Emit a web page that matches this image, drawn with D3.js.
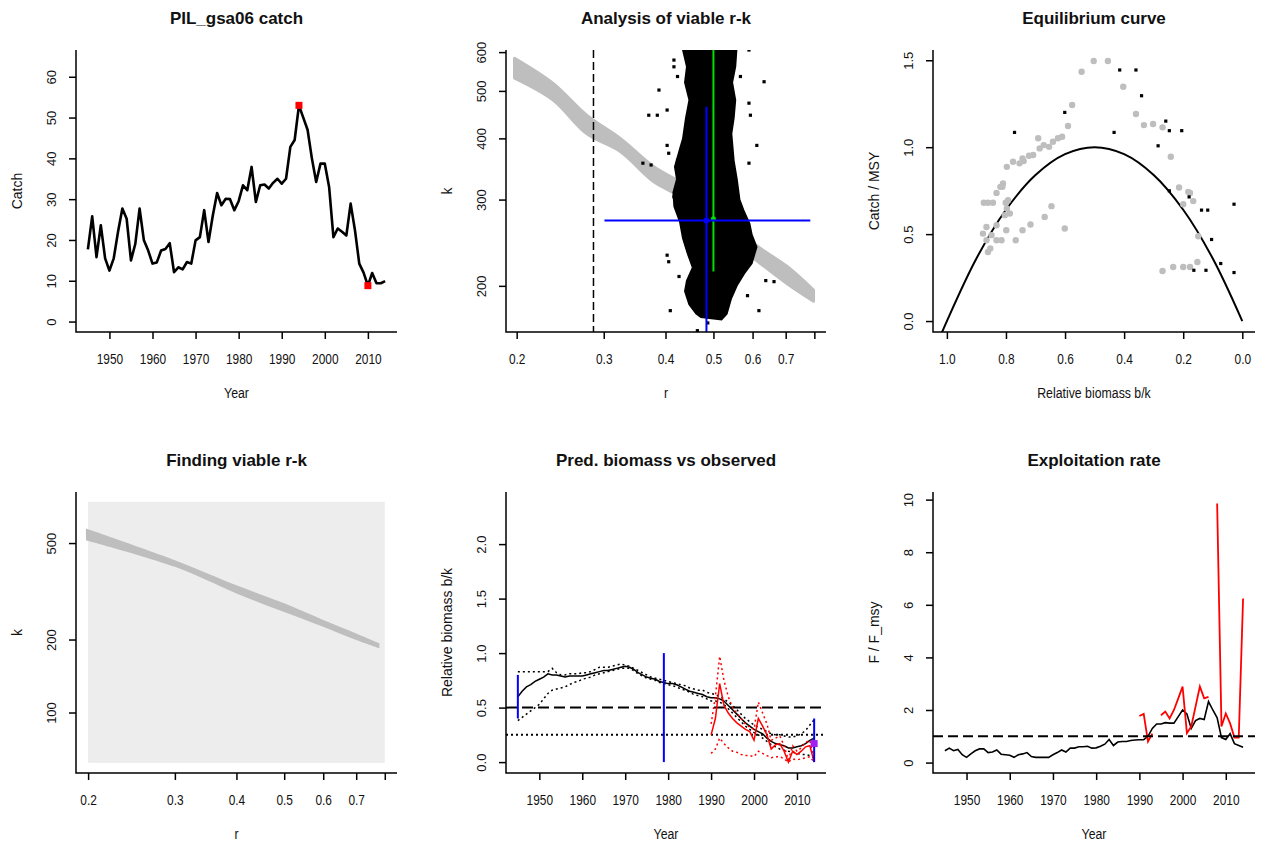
<!DOCTYPE html>
<html>
<head>
<meta charset="utf-8">
<script src="https://cdn.jsdelivr.net/npm/d3@7"></script>
<style>
body { margin: 0; background: #fff; }
svg text { font-family: "Liberation Sans", Arial, sans-serif; fill: #111; }
</style>
</head>
<body>
<div id="container"></div>
<script>
// ---- data ----
const years = [1945,1946,1947,1948,1949,1950,1951,1952,1953,1954,1955,1956,1957,1958,1959,
  1960,1961,1962,1963,1964,1965,1966,1967,1968,1969,1970,1971,1972,1973,1974,1975,1976,1977,
  1978,1979,1980,1981,1982,1983,1984,1985,1986,1987,1988,1989,1990,1991,1992,1993,1994,1995,
  1996,1997,1998,1999,2000,2001,2002,2003,2004,2005,2006,2007,2008,2009,2010,2011,2012,2013,2014]

const catchVals = [17.7,25.8,15.8,23.6,15.5,12.5,15.5,22.0,27.7,25.2,15.0,19.0,27.7,19.9,17.4,
  14.2,14.5,17.4,17.8,19.2,12.1,13.3,12.8,14.6,14.2,19.9,20.7,27.3,19.5,26.0,31.5,28.5,30.1,
  30.0,27.3,29.5,33.4,32.2,37.9,29.3,33.4,33.6,32.6,34.0,35.0,33.8,35.0,42.8,44.5,53.0,50.0,
  47.0,40.0,34.2,38.7,38.7,33.0,20.7,22.8,22.0,21.1,28.9,22.4,14.2,12.0,8.8,11.9,9.4,9.4,9.9]

// predicted relative biomass b/k (median, upper, lower)
const bMed = [0.60,0.65,0.69,0.71,0.74,0.76,0.78,0.81,0.80,0.80,0.79,0.78,0.79,0.79,0.79,
  0.79,0.80,0.81,0.82,0.83,0.84,0.84,0.85,0.86,0.87,0.88,0.87,0.85,0.82,0.80,0.78,0.77,0.76,
  0.74,0.73,0.72,0.72,0.71,0.69,0.67,0.65,0.64,0.63,0.62,0.60,0.59,0.59,0.58,0.56,0.52,0.48,
  0.44,0.40,0.36,0.33,0.30,0.28,0.26,0.22,0.19,0.17,0.16,0.15,0.13,0.13,0.14,0.15,0.17,0.20,0.22]
const bUp = [0.83,0.83,0.83,0.83,0.83,0.83,0.83,0.83,0.86,0.82,0.80,0.80,0.81,0.81,0.81,
  0.82,0.82,0.83,0.85,0.87,0.87,0.87,0.88,0.89,0.90,0.89,0.88,0.86,0.84,0.82,0.80,0.78,0.77,
  0.76,0.75,0.74,0.73,0.72,0.71,0.70,0.68,0.67,0.66,0.66,0.64,0.63,0.62,0.60,0.58,0.55,0.52,
  0.48,0.44,0.40,0.37,0.34,0.32,0.30,0.28,0.26,0.25,0.25,0.24,0.23,0.23,0.24,0.26,0.29,0.34,0.39]
const bLo = [0.38,0.41,0.44,0.47,0.50,0.53,0.58,0.63,0.66,0.67,0.68,0.69,0.71,0.73,0.74,
  0.76,0.77,0.78,0.80,0.81,0.82,0.83,0.84,0.85,0.86,0.86,0.86,0.84,0.81,0.79,0.77,0.76,0.75,
  0.73,0.72,0.71,0.70,0.69,0.67,0.66,0.64,0.62,0.61,0.60,0.58,0.56,0.56,0.55,0.53,0.49,0.45,
  0.41,0.37,0.33,0.30,0.27,0.25,0.22,0.19,0.16,0.14,0.12,0.11,0.10,0.09,0.08,0.07,0.07,0.06,0.04]

// observed (cpue based) biomass, 1990-2014
const obsYears = [1990,1991,1992,1993,1994,1995,1996,1997,1998,1999,2000,2001,2002,2003,2004,
  2005,2006,2007,2008,2009,2010,2011,2012,2013,2014]
const bObs = [0.25,0.40,0.72,0.52,0.45,0.40,0.36,0.33,0.30,0.28,0.20,0.40,0.33,0.25,0.12,
  0.16,0.17,0.10,0.00,0.10,0.07,0.10,0.14,0.15,0.00]
const bObsUp = [0.35,0.60,0.97,0.75,0.60,0.50,0.45,0.40,0.35,0.32,0.30,0.55,0.45,0.35,0.20,
  0.22,0.24,0.15,0.02,0.15,0.10,0.13,0.18,0.20,0.02]
const bObsLo = [0.08,0.12,0.22,0.17,0.13,0.10,0.09,0.07,0.06,0.06,0.05,0.10,0.08,0.06,0.04,
  0.05,0.05,0.03,0.00,0.03,0.02,0.03,0.04,0.05,0.00]

// blue bars in biomass panel
const barYears = [1945, 1979, 2014]
const barLo = [0.40, 0.00, 0.00]
const barHi = [0.80, 1.00, 0.40]
const lastB = 0.17

// exploitation F/Fmsy
const fMed = [0.45,0.55,0.45,0.50,0.30,0.20,0.33,0.45,0.52,0.52,0.38,0.40,0.48,0.32,0.30,
  0.28,0.20,0.30,0.33,0.38,0.23,0.20,0.20,0.20,0.20,0.30,0.38,0.48,0.40,0.55,0.55,0.60,0.60,
  0.62,0.55,0.56,0.62,0.70,0.88,0.65,0.78,0.80,0.80,0.84,0.86,0.87,0.87,1.00,1.30,1.47,1.47,
  1.52,1.50,1.50,1.75,2.00,1.85,1.30,1.60,1.68,1.64,2.32,2.00,1.70,0.95,0.88,1.10,0.72,0.65,0.58]
const fObs = [1.77,1.85,0.80,1.10,null,1.80,1.94,1.68,2.00,2.44,2.89,1.12,1.37,2.13,2.89,
  2.44,2.50,null,9.85,1.37,1.87,1.49,0.95,0.95,6.24]

// r-k analysis
const priorR = [0.2, 0.8]
const priorK = [62, 740]
const band4R = [0.198, 0.3, 0.4, 0.5, 0.6, 0.7, 0.78]
const band4Lo = [514, 399, 310, 260, 226, 199, 184]
const band4Hi = [574, 425, 335, 282, 241, 212, 193]
const band2R = [0.198, 0.237, 0.277, 0.324, 0.379, 0.442, 0.603, 0.705, 0.797]
const band2Lo = [531, 479, 409, 376, 326, 299, 228, 202, 186]
const band2Hi = [583, 518, 446, 400, 350, 319, 244, 219, 196]
// outline of the dense cloud of viable r-k pairs
const cloudR = [0.432,0.440,0.436,0.445,0.438,0.432,0.425,0.416,0.420,0.413,0.415,0.426,
  0.432,0.442,0.452,0.440,0.436,0.445,0.460,0.471,
  0.520,0.534,0.545,0.560,0.580,0.600,0.614,0.600,0.594,0.578,0.567,0.560,0.552,0.546,
  0.552,0.556,0.548,0.556,0.559]
const cloudK = [606,560,520,479,440,400,378,350,330,310,290,270,250,232,218,205,195,183,175,172,
  170,175,188,200,212,222,240,255,268,285,300,330,360,409,440,479,520,560,606]
const strayR = [0.388,0.403,0.370,0.385,0.416,0.416,0.423,0.633,0.594,0.590,0.612,0.590,
  0.403,0.406,0.423,0.360,0.374,0.403,0.406,0.638,0.663,0.618,0.409,0.464,0.487,0.586,
  0.426,0.567,0.590,0.416]
const strayK = [502,457,446,446,578,560,535,522,446,472,387,356,387,373,361,356,353,231,224,
  205,204,178,178,162,168,191,209,535,606,304]
const rBest = 0.484, kBest = 272
const rCI = [0.301, 0.785], kCI = [464, 150]
const rAlt = 0.5, kAlt = 274, kAltCI = [214, 700]
const rLow = 0.286

// equilibrium curve
const eqB = [0, 0.1, 0.2, 0.3, 0.4, 0.5, 0.6, 0.7, 0.8, 0.9, 1.0, 1.03]
const eqC = [0, 0.36, 0.64, 0.84, 0.96, 1.0, 0.96, 0.84, 0.64, 0.36, 0, -0.12]
const grayB = [0.503,0.455,0.544,0.576,0.590,0.403,0.360,0.333,0.302,0.270,0.242,
  0.610,0.624,0.641,0.654,0.672,0.686,0.691,0.708,0.722,0.740,0.744,0.754,0.776,0.797,
  0.810,0.819,0.832,0.812,0.793,0.801,0.797,0.787,0.804,0.844,0.861,0.875,
  0.799,0.832,0.866,0.878,0.849,0.832,0.815,0.866,0.853,0.861,
  0.767,0.744,0.717,0.669,0.646,0.601,
  0.214,0.183,0.177,0.200,0.166,0.149,0.152,0.177,0.200,0.234,0.270]
const grayC = [1.496,1.496,1.434,1.243,1.122,1.348,1.191,1.127,1.133,1.114,0.945,
  1.060,1.051,1.031,1.002,1.012,0.993,1.051,0.955,0.951,0.920,0.935,0.907,0.916,0.887,
  0.791,0.772,0.737,0.772,0.695,0.680,0.647,0.619,0.609,0.680,0.680,0.680,
  0.522,0.551,0.541,0.503,0.494,0.465,0.465,0.465,0.417,0.397,
  0.465,0.522,0.555,0.599,0.661,0.532,
  0.768,0.743,0.737,0.672,0.690,0.488,0.340,0.311,0.311,0.311,0.288]
const blackB = [0.771,0.601,0.415,0.360,0.341,0.434,0.259,0.247,0.205,0.285,0.180,0.138,
  0.117,0.028,0.104,0.073,0.164,0.123,0.028,0.247]
const blackC = [1.085,1.200,1.444,1.444,1.296,1.085,1.150,1.095,1.095,1.008,0.714,0.638,
  0.638,0.672,0.469,0.331,0.292,0.292,0.279,0.749]

// ticks
const yearTicks = [1950, 1960, 1970, 1980, 1990, 2000, 2010]
const catchTicks = [0, 10, 20, 30, 40, 50, 60]
const rTicks = [0.2, 0.3, 0.4, 0.5, 0.6, 0.7, 0.8]
const rTickLabels = ['0.2', '0.3', '0.4', '0.5', '0.6', '0.7', '']
const k2Ticks = [200, 300, 400, 500, 600]
const k4Ticks = [100, 200, 500]
const eqXTicks = [1, 0.8, 0.6, 0.4, 0.2, 0]
const eqYTicks = [0, 0.5, 1, 1.5]
const bTicks = [0, 0.5, 1, 1.5, 2]
const fTicks = [0, 2, 4, 6, 8, 10]

// ---- drawing ----
const svg = d3.select('#container').append('svg')
    .attr('width', 1261).attr('height', 845)

const boxes = [
    { l: 76, t: 50, r: 397, b: 332 },
    { l: 506, t: 50, r: 826, b: 332 },
    { l: 933, t: 50, r: 1255, b: 332 },
    { l: 76, t: 492, r: 397, b: 773 },
    { l: 506, t: 492, r: 826, b: 773 },
    { l: 933, t: 492, r: 1255, b: 773 },
]

const fmt1 = d => d3.format('.1f')(d)

const panel = (i) => {
    const box = boxes[i]
    svg.append('clipPath').attr('id', 'clip' + i)
        .append('rect').attr('x', box.l).attr('y', box.t)
        .attr('width', box.r - box.l).attr('height', box.b - box.t)
    const g = svg.append('g')
    const plot = g.append('g').attr('clip-path', 'url(#clip' + i + ')')
    return { g, plot, box }
}

const drawAxes = (p, x, y, xt, xl, yt, yl, title, xlab, ylab) => {
    const { g, box } = p
    const ax = g.append('g').attr('transform', 'translate(0,' + box.b + ')')
        .call(d3.axisBottom(x).tickValues(xt).tickSize(7).tickSizeOuter(0)
            .tickFormat((d, i) => xl[i]))
    ax.select('.domain').remove()
    ax.selectAll('line').attr('stroke-width', 1.5)
    ax.selectAll('text').attr('y', null).attr('dy', '0.35em').attr('font-size', 14)
        .attr('transform', 'translate(0,27) scale(0.85,1)')

    const ay = g.append('g').attr('transform', 'translate(' + box.l + ',0)')
        .call(d3.axisLeft(y).tickValues(yt).tickSize(7).tickSizeOuter(0)
            .tickFormat((d, i) => yl[i]))
    ay.select('.domain').remove()
    ay.selectAll('line').attr('stroke-width', 1.5)
    ay.selectAll('text').attr('x', null).attr('dy', '0.35em').attr('font-size', 13)
        .attr('text-anchor', 'middle')
        .attr('transform', 'translate(-24.5,0) rotate(-90)')

    g.append('path')
        .attr('d', 'M' + box.l + ',' + box.t + 'V' + box.b + 'H' + box.r)
        .attr('fill', 'none').attr('stroke', '#000').attr('stroke-width', 1.5)

    const cx = (box.l + box.r) / 2
    g.append('text').attr('x', cx).attr('y', box.t - 26)
        .attr('text-anchor', 'middle').attr('font-size', 17).attr('font-weight', 'bold')
        .text(title)
    g.append('text').attr('text-anchor', 'middle').attr('dy', '0.35em').attr('font-size', 14.5)
        .attr('transform', 'translate(' + cx + ',' + (box.b + 61) + ') scale(0.85,1)')
        .text(xlab)
    g.append('text').attr('text-anchor', 'middle').attr('dy', '0.35em').attr('font-size', 14)
        .attr('transform', 'translate(' + (box.l - 59) + ',' + ((box.t + box.b) / 2) + ') rotate(-90)')
        .text(ylab)
}

const yearScale = (box) => d3.scaleLinear().domain([1942.24, 2016.76]).range([box.l, box.r])

// panel 1: catch
{
    const p = panel(0)
    const x = yearScale(p.box)
    const y = d3.scaleLinear().domain([-2.56, 66.56]).range([p.box.b, p.box.t])
    p.plot.append('path')
        .attr('d', d3.line().x((d, i) => x(years[i])).y(d => y(d))(catchVals))
        .attr('fill', 'none').attr('stroke', '#000').attr('stroke-width', 2.6)
        .attr('stroke-linejoin', 'round')
    const iMax = d3.maxIndex(catchVals), iMin = d3.minIndex(catchVals)
    p.plot.selectAll('.ext').data([iMax, iMin]).join('rect')
        .attr('x', d => x(years[d]) - 3.5).attr('y', d => y(catchVals[d]) - 3.5)
        .attr('width', 7).attr('height', 7).attr('fill', '#ff0000')
    drawAxes(p, x, y, yearTicks, yearTicks.map(String), catchTicks, catchTicks.map(String),
        'PIL_gsa06 catch', 'Year', 'Catch')
}

// panel 2: analysis of viable r-k
{
    const p = panel(1)
    const x = d3.scaleLog().domain([0.1903, 0.8446]).range([p.box.l, p.box.r])
    const y = d3.scaleLog().domain([161, 606]).range([p.box.b, p.box.t])
    p.plot.append('path')
        .attr('d', d3.area().x((d, i) => x(band2R[i])).y0((d, i) => y(band2Lo[i]))
            .y1((d, i) => y(band2Hi[i])).curve(d3.curveCatmullRom)(band2R))
        .attr('fill', '#bebebe').attr('stroke', '#bebebe').attr('stroke-width', 3)
        .attr('stroke-linejoin', 'round')
    p.plot.append('path')
        .attr('d', d3.line().x((d, i) => x(cloudR[i])).y((d, i) => y(cloudK[i]))
            .curve(d3.curveLinearClosed)(cloudR))
        .attr('fill', '#000')
    p.plot.selectAll('.stray').data(strayR).join('rect')
        .attr('x', (d, i) => x(d) - 1.6).attr('y', (d, i) => y(strayK[i]) - 1.6)
        .attr('width', 3.2).attr('height', 3.2).attr('fill', '#000')
    p.plot.append('line')
        .attr('x1', x(rLow)).attr('x2', x(rLow)).attr('y1', p.box.t).attr('y2', p.box.b)
        .attr('stroke', '#000').attr('stroke-width', 1.5).attr('stroke-dasharray', '8,4')
    p.plot.append('line')
        .attr('x1', x(rAlt)).attr('x2', x(rAlt)).attr('y1', y(kAltCI[0])).attr('y2', y(kAltCI[1]))
        .attr('stroke', '#00e000').attr('stroke-width', 2)
    p.plot.append('circle').attr('cx', x(rAlt)).attr('cy', y(kAlt)).attr('r', 2.5).attr('fill', '#00e000')
    p.plot.append('line')
        .attr('x1', x(rCI[0])).attr('x2', x(rCI[1])).attr('y1', y(kBest)).attr('y2', y(kBest))
        .attr('stroke', '#0000ff').attr('stroke-width', 2)
    p.plot.append('line')
        .attr('x1', x(rBest)).attr('x2', x(rBest)).attr('y1', y(kCI[0])).attr('y2', y(kCI[1]))
        .attr('stroke', '#0000ff').attr('stroke-width', 2)
    p.plot.append('circle').attr('cx', x(rBest)).attr('cy', y(kBest)).attr('r', 3).attr('fill', '#0000ff')
    drawAxes(p, x, y, rTicks, rTickLabels, k2Ticks, k2Ticks.map(String),
        'Analysis of viable r-k', 'r', 'k')
}

// panel 3: equilibrium curve
{
    const p = panel(2)
    const x = d3.scaleLinear().domain([1.047, -0.043]).range([p.box.l, p.box.r])
    const y = d3.scaleLinear().domain([-0.063, 1.559]).range([p.box.b, p.box.t])
    p.plot.append('path')
        .attr('d', d3.line().x((d, i) => x(eqB[i])).y(d => y(d)).curve(d3.curveCatmullRom)(eqC))
        .attr('fill', 'none').attr('stroke', '#000').attr('stroke-width', 2)
    p.plot.selectAll('.gp').data(grayB).join('circle')
        .attr('cx', d => x(d)).attr('cy', (d, i) => y(grayC[i])).attr('r', 3.2)
        .attr('fill', '#bebebe')
    p.plot.selectAll('.bp').data(blackB).join('rect')
        .attr('x', d => x(d) - 1.6).attr('y', (d, i) => y(blackC[i]) - 1.6)
        .attr('width', 3.2).attr('height', 3.2).attr('fill', '#000')
    drawAxes(p, x, y, eqXTicks, eqXTicks.map(fmt1), eqYTicks, eqYTicks.map(fmt1),
        'Equilibrium curve', 'Relative biomass b/k', 'Catch / MSY')
}

// panel 4: finding viable r-k
{
    const p = panel(3)
    const x = d3.scaleLog().domain([0.189, 0.847]).range([p.box.l, p.box.r])
    const y = d3.scaleLog().domain([56.3, 812]).range([p.box.b, p.box.t])
    p.plot.append('rect')
        .attr('x', x(priorR[0])).attr('y', y(priorK[1]))
        .attr('width', x(priorR[1]) - x(priorR[0])).attr('height', y(priorK[0]) - y(priorK[1]))
        .attr('fill', '#ededed')
    p.plot.append('path')
        .attr('d', d3.area().x((d, i) => x(band4R[i])).y0((d, i) => y(band4Lo[i]))
            .y1((d, i) => y(band4Hi[i])).curve(d3.curveCatmullRom)(band4R))
        .attr('fill', '#bebebe')
    drawAxes(p, x, y, rTicks, rTickLabels, k4Ticks, k4Ticks.map(String),
        'Finding viable r-k', 'r', 'k')
}

// panel 5: predicted biomass vs observed
{
    const p = panel(4)
    const x = yearScale(p.box)
    const y = d3.scaleLinear().domain([-0.1, 2.478]).range([p.box.b, p.box.t])
    const refs = [[0.5, '11,5'], [0.25, '2,3']]
    p.plot.selectAll('.ref').data(refs).join('line')
        .attr('x1', p.box.l).attr('x2', p.box.r)
        .attr('y1', d => y(d[0])).attr('y2', d => y(d[0]))
        .attr('stroke', '#000').attr('stroke-width', 2).attr('stroke-dasharray', d => d[1])
    const lineY = d3.line().x((d, i) => x(years[i])).y(d => y(d))
    const lineO = d3.line().x((d, i) => x(obsYears[i])).y(d => y(d))
    p.plot.selectAll('.bci').data([bUp, bLo]).join('path')
        .attr('d', d => lineY(d)).attr('fill', 'none').attr('stroke', '#000')
        .attr('stroke-width', 1.5).attr('stroke-dasharray', '2,3')
    p.plot.append('path').attr('d', lineY(bMed)).attr('fill', 'none')
        .attr('stroke', '#000').attr('stroke-width', 1.5)
    p.plot.selectAll('.oci').data([bObsUp, bObsLo]).join('path')
        .attr('d', d => lineO(d)).attr('fill', 'none').attr('stroke', '#ff0000')
        .attr('stroke-width', 1.5).attr('stroke-dasharray', '2,3')
    p.plot.append('path').attr('d', lineO(bObs)).attr('fill', 'none')
        .attr('stroke', '#ff0000').attr('stroke-width', 1.5)
    p.plot.selectAll('.bar').data(barYears).join('line')
        .attr('x1', d => x(d)).attr('x2', d => x(d))
        .attr('y1', (d, i) => y(barLo[i])).attr('y2', (d, i) => y(barHi[i]))
        .attr('stroke', '#0000ff').attr('stroke-width', 2)
    p.plot.append('rect')
        .attr('x', x(years[years.length - 1]) - 3.5).attr('y', y(lastB) - 3.5)
        .attr('width', 7).attr('height', 7).attr('fill', '#a020f0')
    drawAxes(p, x, y, yearTicks, yearTicks.map(String), bTicks, bTicks.map(fmt1),
        'Pred. biomass vs observed', 'Year', 'Relative biomass b/k')
}

// panel 6: exploitation rate
{
    const p = panel(5)
    const x = yearScale(p.box)
    const y = d3.scaleLinear().domain([-0.396, 10.29]).range([p.box.b, p.box.t])
    p.plot.append('path')
        .attr('d', d3.line().x((d, i) => x(years[i])).y(d => y(d))(fMed))
        .attr('fill', 'none').attr('stroke', '#000').attr('stroke-width', 1.6)
    p.plot.append('path')
        .attr('d', d3.line().defined(d => d != null).x((d, i) => x(obsYears[i])).y(d => y(d))(fObs))
        .attr('fill', 'none').attr('stroke', '#ff0000').attr('stroke-width', 1.8)
    p.plot.append('line')
        .attr('x1', p.box.l).attr('x2', p.box.r).attr('y1', y(1)).attr('y2', y(1))
        .attr('stroke', '#000').attr('stroke-width', 2).attr('stroke-dasharray', '10,5')
    drawAxes(p, x, y, yearTicks, yearTicks.map(String), fTicks, fTicks.map(String),
        'Exploitation rate', 'Year', 'F / F_msy')
}
</script>
</body>
</html>
